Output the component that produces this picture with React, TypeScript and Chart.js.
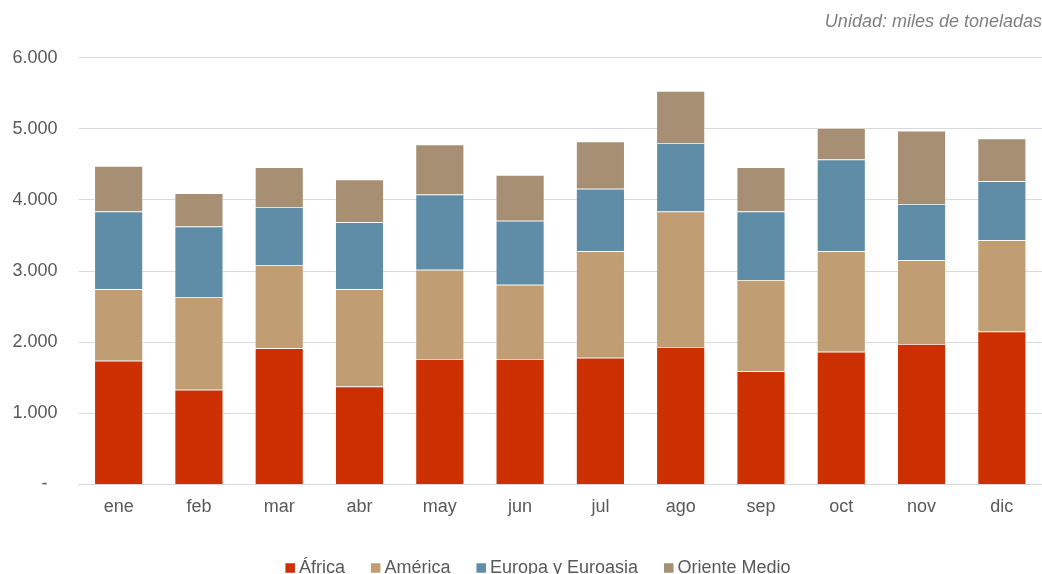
import { useEffect, useRef } from "react";
import { Chart, registerables } from "chart.js";

Chart.register(...registerables);

const months = ["ene", "feb", "mar", "abr", "may", "jun", "jul", "ago", "sep", "oct", "nov", "dic"];
const seriesNames = ["África", "América", "Europa y Euroasia", "Oriente Medio"];
const africa = [1740, 1332, 1913, 1378, 1763, 1763, 1781, 1931, 1589, 1866, 1973, 2148];
const america = [1003, 1302, 1172, 1365, 1256, 1045, 1496, 1904, 1285, 1411, 1177, 1284];
const europa = [1092, 990, 815, 942, 1055, 900, 881, 966, 961, 1289, 793, 830];
const oriente = [642, 469, 559, 600, 704, 643, 662, 731, 624, 446, 1027, 600];
const seriesColors = ["#CC3000", "#C19D74", "#5F8DA8", "#A68F73"];
const unitLabel = "Unidad: miles de toneladas";
const yMax = 6000;
const yStep = 1000;

const FONT = '"Liberation Sans", Arial, sans-serif';
const LEGEND_CENTER_X = 538;
const LEGEND_Y = 568;

function formatTick(v: number): string {
  if (v === 0) return "-  ";
  return String(v).replace(/\B(?=(\d{3})+(?!\d))/g, ".");
}

const legendPlugin = {
  id: "customLegend",
  afterDraw(chart: any) {
    const ctx = chart.ctx as CanvasRenderingContext2D;
    ctx.save();
    ctx.font = `18px ${FONT}`;
    const box = 9.5;
    const gap = 4;
    const itemGap = 26;
    const items = chart.data.datasets.map((ds: any) => ({
      text: ds.label as string,
      color: ds.backgroundColor as string,
      w: ctx.measureText(ds.label).width,
    }));
    const total =
      items.reduce((s: number, it: any) => s + box + gap + it.w, 0) + itemGap * (items.length - 1);
    let x = LEGEND_CENTER_X - total / 2;
    ctx.textBaseline = "middle";
    ctx.textAlign = "left";
    for (const it of items) {
      ctx.fillStyle = it.color;
      ctx.fillRect(x, LEGEND_Y - box / 2, box, box);
      ctx.fillStyle = "#595959";
      ctx.fillText(it.text, x + box + gap, LEGEND_Y);
      x += box + gap + it.w + itemGap;
    }
    ctx.restore();
  },
};

export default function App() {
  const ref = useRef<HTMLCanvasElement | null>(null);

  useEffect(() => {
    if (!ref.current) return;
    const values = [africa, america, europa, oriente];
    const chart = new Chart(ref.current, {
      type: "bar",
      data: {
        labels: months,
        datasets: seriesNames.map((name, i) => ({
          label: name,
          data: values[i],
          backgroundColor: seriesColors[i],
          borderColor: "rgba(255,255,255,0.55)",
          borderWidth: 0.75,
          barPercentage: 0.606,
          categoryPercentage: 1,
        })),
      },
      plugins: [legendPlugin],
      options: {
        responsive: true,
        maintainAspectRatio: false,
        animation: false,
        layout: { padding: { left: 0, right: 0, top: 0, bottom: 44 } },
        plugins: {
          legend: { display: false },
          tooltip: { enabled: false },
          title: {
            display: true,
            text: unitLabel,
            align: "end",
            color: "#7F7F7F",
            font: { family: FONT, size: 18, style: "italic", weight: "normal" },
            padding: { top: 11, bottom: 25 },
          },
        },
        scales: {
          x: {
            stacked: true,
            grid: { display: false, drawTicks: false },
            border: { display: true, color: "#D9D9D9", width: 1 },
            ticks: { color: "#595959", font: { family: FONT, size: 18 }, padding: 12 },
          },
          y: {
            stacked: true,
            min: 0,
            max: yMax,
            grid: { color: "#D9D9D9", lineWidth: 1, drawTicks: false },
            border: { display: false },
            afterFit: (scale: any) => {
              scale.width = 78.5;
            },
            ticks: {
              stepSize: yStep,
              color: "#595959",
              font: { family: FONT, size: 18 },
              padding: 21,
              callback: (v: any) => formatTick(Number(v)),
            },
          },
        },
      },
    });
    return () => chart.destroy();
  }, []);

  return (
    <div
      style={{
        position: "fixed",
        left: 0,
        top: 0,
        width: 1042,
        height: 574,
        overflow: "hidden",
        background: "#ffffff",
      }}
    >
      <canvas ref={ref} />
    </div>
  );
}
